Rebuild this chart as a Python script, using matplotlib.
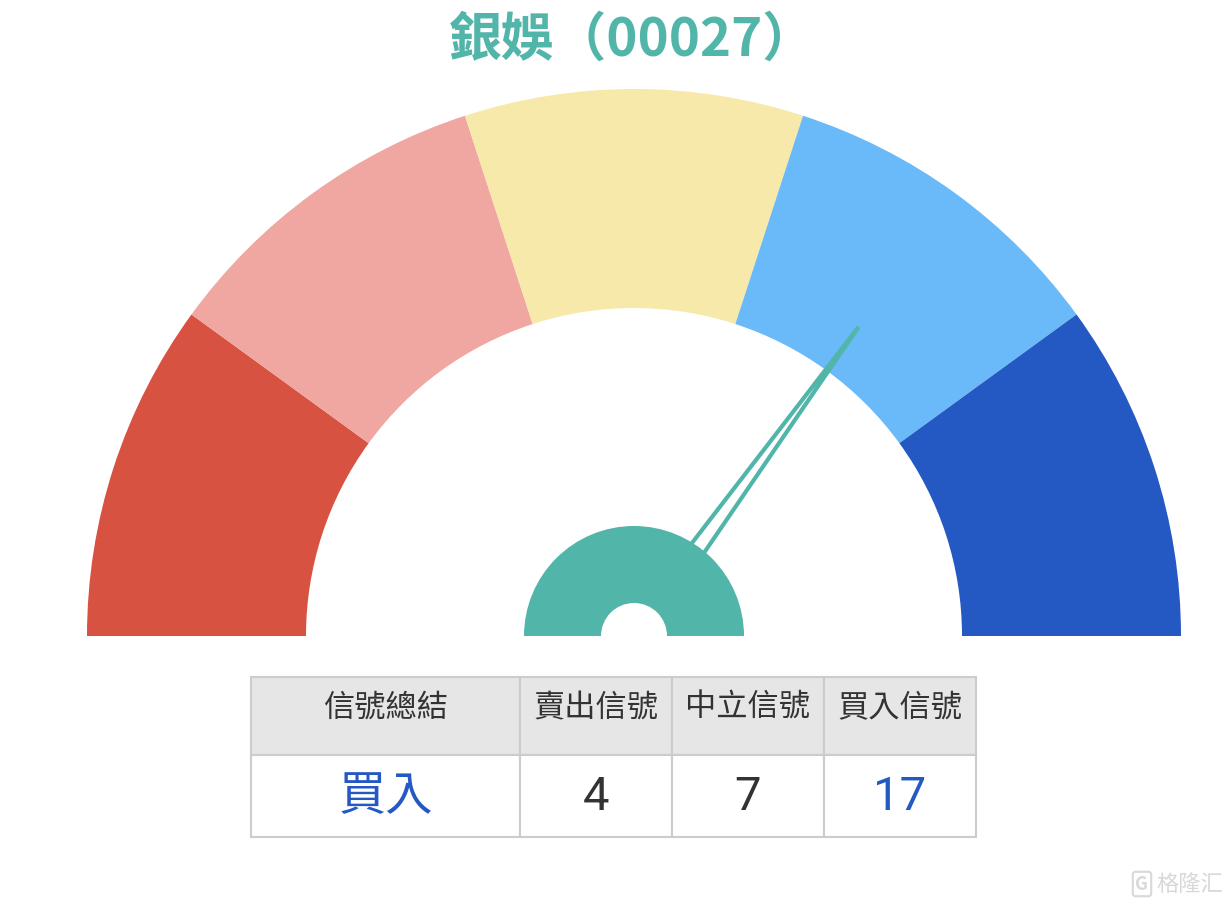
import matplotlib.pyplot as plt
import numpy as np
from matplotlib.patches import Wedge, Rectangle, Polygon

plt.rcParams['font.family'] = ['Noto Sans CJK TC', 'DejaVu Sans']

title = '銀娛（00027）'
segment_colors = ['#D85241', '#F0A6A1', '#F6E9AA', '#6AB9F8', '#2458C3']
needle_value = 0.70   # fraction of the dial, 0 = far left, 1 = far right

headers = ['信號總結', '賣出信號', '中立信號', '買入信號']
values = ['買入', '4', '7', '17']
value_colors = ['#2458C3', '#333333', '#333333', '#2458C3']

teal = '#52B5A9'

fig = plt.figure(figsize=(12.28, 9.06), dpi=100)
ax = fig.add_axes([0, 0, 1, 1])
ax.set_xlim(0, 1228)
ax.set_ylim(906, 0)
ax.set_aspect('equal')
ax.axis('off')

# gauge
cx, cy = 634, 636
r_out, r_in = 547, 328
n = len(segment_colors)
step = 180 / n
for i, c in enumerate(segment_colors):
    # y axis is inverted, so angles run clockwise -> use negative angles
    a1 = -180 + i * step
    ax.add_patch(Wedge((cx, cy), r_out, a1, a1 + step, width=r_out - r_in,
                       facecolor=c, edgecolor='none'))

# needle (thin outlined wedge from the hub edge to the tip)
ang = np.radians(180 - needle_value * 180)
tip_r, base_r, half = 382, 100, 8
u = np.array([np.cos(ang), -np.sin(ang)])
perp = np.array([np.sin(ang), np.cos(ang)])
tip = (cx + tip_r * u[0], cy + tip_r * u[1])
bm = np.array([cx, cy]) + base_r * u
b1 = bm + perp * half
b2 = bm - perp * half
ax.add_patch(Polygon([b1, tip, b2], closed=True, facecolor='none',
                     edgecolor=teal, linewidth=3, joinstyle='miter'))

# hub
ax.add_patch(Wedge((cx, cy), 110, 180, 360, width=110 - 33,
                   facecolor=teal, edgecolor='none'))

# title
ax.text(632, 40, title, ha='center', va='center', fontsize=38,
        fontweight='bold', color=teal)

# table
col_x = [251, 520, 672, 824, 976]
row_y = [677, 755, 837]
for j in range(len(headers)):
    x0, x1 = col_x[j], col_x[j + 1]
    ax.add_patch(Rectangle((x0, row_y[0]), x1 - x0, row_y[1] - row_y[0],
                           facecolor='#E6E6E6', edgecolor='#CCCCCC', linewidth=1.5))
    ax.add_patch(Rectangle((x0, row_y[1]), x1 - x0, row_y[2] - row_y[1],
                           facecolor='white', edgecolor='#CCCCCC', linewidth=1.5))
    xm = (x0 + x1) / 2
    ax.text(xm, 708, headers[j], ha='center', va='center', fontsize=22.5,
            color='#333333')
    fam = ['Noto Sans CJK TC'] if j == 0 else ['Roboto', 'Noto Sans CJK TC']
    ax.text(xm, 797, values[j], ha='center', va='center', fontsize=34,
            color=value_colors[j], family=fam)

# watermark
ax.text(1142, 884, 'G', ha='center', va='center', fontsize=13, color='#D8D8D8',
        fontweight='bold',
        bbox=dict(boxstyle='round,pad=0.15', facecolor='none', edgecolor='#D8D8D8', lw=1.5))
ax.text(1190, 884, '格隆汇', ha='center', va='center', fontsize=16, color='#D8D8D8')

plt.savefig('out.png', dpi=100)
